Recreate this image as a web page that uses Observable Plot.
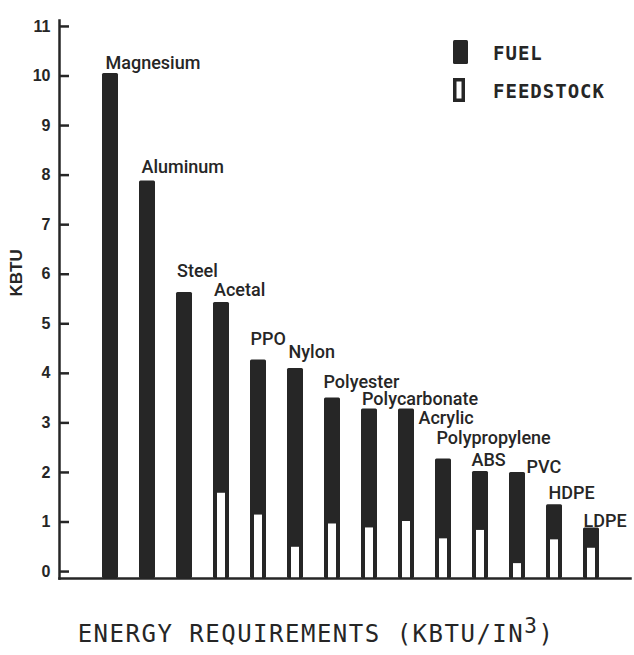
<!DOCTYPE html>
<html><head><meta charset="utf-8">
<script src="https://cdn.jsdelivr.net/npm/d3@7"></script>
<script src="https://cdn.jsdelivr.net/npm/@observablehq/plot@0.6"></script>
<style>body{margin:0;background:#fff;} #chart{width:634px;height:655px;}</style>
</head><body><div id="chart"></div>
<script>
// ---- data ----
const materials = ["Magnesium","Aluminum","Steel","Acetal","PPO","Nylon","Polyester","Polycarbonate","Acrylic","Polypropylene","ABS","PVC","HDPE","LDPE"];
const fuel      = [10.05, 7.88, 5.63, 3.85, 3.13, 3.61, 2.54, 2.40, 2.27, 1.61, 1.19, 1.84, 0.71, 0.41];
const feedstock = [0, 0, 0, 1.58, 1.14, 0.49, 0.96, 0.88, 1.01, 0.66, 0.83, 0.16, 0.64, 0.47];
const yTicks = [0,1,2,3,4,5,6,7,8,9,10,11];
const yLabel = "KBTU";
const seriesNames = ["FUEL","FEEDSTOCK"];
const titleMain = "ENERGY REQUIREMENTS (KBTU/IN";
const titleSup = "3";
const titleEnd = ")";

// ---- layout ----
const rows = materials.map((name, i) => ({name, fuel: fuel[i], feedstock: feedstock[i], total: fuel[i] + feedstock[i]}));
const W = 634, H = 655, mL = 59, mR = 4, mT = 20, mB = 77;
const yBase = -0.14;
const ink = "#262626";
const sans = "'Liberation Sans', Arial, Helvetica, sans-serif";
const labelFont = "Roboto, 'Liberation Sans', Arial, sans-serif";
const mono = "'DejaVu Sans Mono', 'Liberation Mono', monospace";
// label nudges [dx, dy] in pixels relative to the bar top
const nudge = {Magnesium:[-5,-5], Aluminum:[-6,-8], Steel:[-7.5,-16], Acetal:[-7.5,-6], PPO:[-8,-15], Nylon:[-7,-10],
  Polyester:[-9,-10], Polycarbonate:[-7.5,-4], Acrylic:[12,15], Polypropylene:[-7,-15], ABS:[-9,-5], PVC:[9,1], HDPE:[-6,-6], LDPE:[-8,-1]};

const plot = Plot.plot({
  width: W, height: H, marginLeft: mL, marginRight: mR, marginTop: mT, marginBottom: mB,
  style: {background: "#fff", color: ink, fontFamily: sans, overflow: "visible"},
  x: {type: "band", domain: materials, paddingInner: 0.57, paddingOuter: 0.83, align: 0.58, axis: null},
  y: {domain: [yBase, 11.12]},
  marks: [
    Plot.barY(rows, {x: "name", y1: yBase, y2: "total", fill: ink, rx: 1.5}),
    Plot.barY(rows.filter(d => d.feedstock > 0), {x: "name", y1: yBase, y2: "feedstock", fill: "#fff", insetLeft: 4, insetRight: 4}),
    Plot.frame({anchor: "left", stroke: ink, strokeWidth: 2.5}),
    Plot.frame({anchor: "bottom", stroke: ink, strokeWidth: 2.5}),
    Plot.ruleY(yTicks, {stroke: ink, strokeWidth: 2.5, insetRight: W - mL - mR - 10}),
    Plot.axisY({ticks: yTicks, tickSize: 0, tickPadding: 9, label: null, fontSize: 16, fontWeight: "bold"}),
    Plot.text([yLabel], {frameAnchor: "left", rotate: -90, dx: -43, dy: -3, fontSize: 17, fontWeight: "bold", fill: ink}),
    ...rows.map(d => Plot.text([d], {x: "name", y: "total", text: "name", textAnchor: "start", lineAnchor: "bottom",
      dx: nudge[d.name][0], dy: nudge[d.name][1], fontFamily: labelFont, fontWeight: 500, fontSize: 18, fill: ink}))
  ]
});

// legend
const svg = d3.select(plot);
const lg = svg.append("g").attr("text-anchor", "start");
lg.append("rect").attr("x", 453).attr("y", 40).attr("width", 15).attr("height", 24).attr("rx", 1.5).attr("fill", ink);
lg.append("rect").attr("x", 454.75).attr("y", 79.75).attr("width", 8.5).attr("height", 20.5).attr("fill", "#fff").attr("stroke", ink).attr("stroke-width", 3.5);
lg.selectAll("text.lg").data(seriesNames).join("text").attr("class", "lg")
  .attr("x", 493).attr("y", (d, i) => i === 0 ? 60 : 98).attr("text-anchor", "start")
  .attr("font-family", mono).attr("font-weight", "bold").attr("font-size", 19).attr("letter-spacing", 1)
  .attr("fill", ink).text(d => d);

// x title
const t = svg.append("text").attr("x", 316).attr("y", 642).attr("text-anchor", "middle")
  .attr("font-family", mono).attr("font-size", 24).attr("letter-spacing", 1.5).attr("fill", ink);
t.append("tspan").text(titleMain);
t.append("tspan").attr("dy", -9).attr("font-size", 21).text(titleSup);
t.append("tspan").attr("dy", 9).text(titleEnd);

document.getElementById("chart").append(plot);
</script>
</body></html>
